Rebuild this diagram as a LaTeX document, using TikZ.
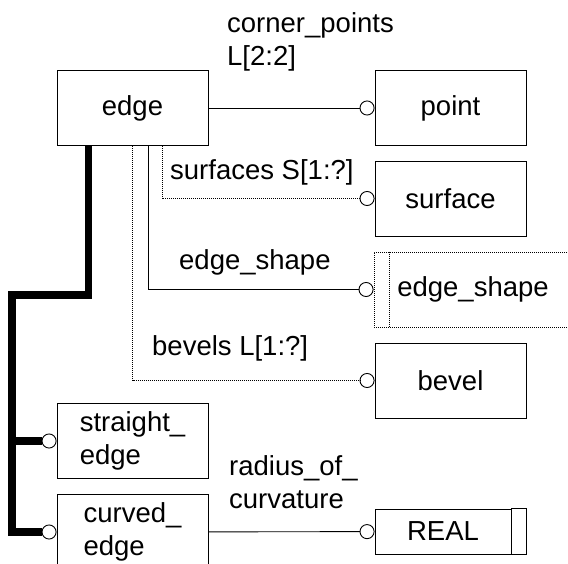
\documentclass[tikz,border=0pt]{standalone}
\usepackage{fontspec}
\setmainfont{Liberation Sans}
\usetikzlibrary{arrows.meta}

\begin{document}
\begin{tikzpicture}[x=1pt, y=-1pt,
  every node/.style={font=\fontsize{27.5}{33}\selectfont},
  entity/.style={rectangle, draw, line width=0.9pt, minimum width=151pt, minimum height=75pt, inner sep=0pt},
  attr/.style={anchor=base west, inner sep=0pt, align=left},
  rel/.style={line width=0.9pt, -{Circle[open, length=15pt, line width=0.9pt]}},
  optrel/.style={rel, dash pattern=on 1pt off 1pt},
  isa/.style={line width=7.5pt, -{Circle[open, length=15pt, line width=0.9pt]}}]
  \useasboundingbox (0,0) rectangle (568,564);
  %% Entities
  \node [entity] (edge) at (132.5,108) {edge};
  \node [entity] (point) at (450.5,108) {point};
  \node [entity] (surface) at (450.5,198.5) {surface};
  \node [entity, minimum width=198pt, dash pattern=on 1pt off 1pt] (shape) at (473,289.5) {edge\_shape};
  \draw [line width=0.9pt, dash pattern=on 1pt off 1pt] ([xshift=16pt]shape.north west) -- ([xshift=16pt]shape.south west);
  \node [entity] (bevel) at (450.5,380.5) {bevel};
  \node [entity, align=left] (straight) at (132.5,441) {straight\_\\edge};
  \node [entity, align=left] (curved) at (132.5,532) {curved\_\\edge};
  \node [entity, minimum width=136pt, minimum height=45pt] (real) at (443,531.5) {REAL};
  \draw [line width=0.9pt] (real.north east) -- ++(15,0) |- (real.south east);
  \coordinate (spine) at (12,295);
  % Draw edges
  \draw [rel] (edge) -- (point);
  \draw [optrel] ([xshift=29.5pt]edge.south) |- (surface.west);
  \draw [rel] ([xshift=15.5pt]edge.south) |- (shape.west);
  \draw [optrel] (edge.south) |- (bevel.west);
  \draw [isa] ([xshift=-44pt]edge.south) |- (spine) |- (curved.west);
  \draw [isa] (spine |- straight.west) -- (straight.west);
  \draw [rel] (curved) -- (real);
  % Attribute names
  \node [attr] (cornerlbl) at (227,66) {corner\_points\\L[2:2]};
  \node [attr] (surflbl) at (170,180) {surfaces S[1:?]};
  \node [attr] (shapelbl) at (179,270) {edge\_shape};
  \node [attr] (bevellbl) at (152,355) {bevels L[1:?]};
  \node [attr] (radiuslbl) at (229,508) {radius\_of\_\\curvature};
\end{tikzpicture}
\end{document}
